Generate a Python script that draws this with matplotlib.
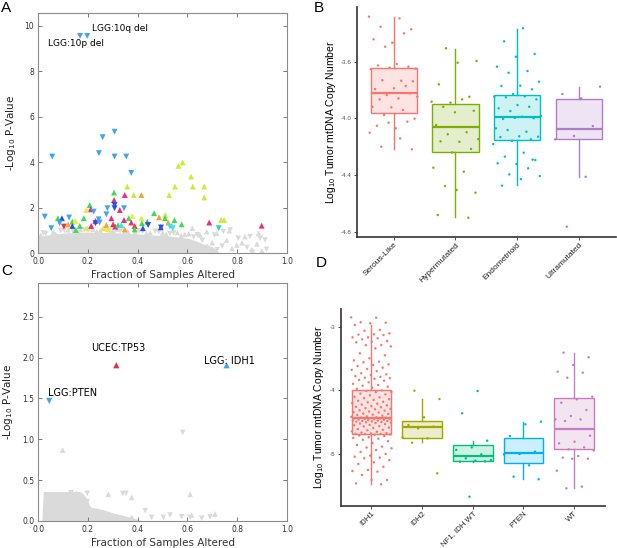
import matplotlib
matplotlib.use("Agg")
import matplotlib.pyplot as plt
import numpy as np

plt.rcParams['mathtext.default'] = 'regular'
plt.rcParams['axes.unicode_minus'] = False

# ---------------- panel A: pan-cancer associations ----------------
a_x = [0.168, 0.197, 0.056, 0.259, 0.307, 0.244, 0.307, 0.354, 0.374, 0.358,
       0.305, 0.348, 0.384, 0.415, 0.305, 0.307, 0.307, 0.345, 0.328, 0.207,
       0.211, 0.223, 0.193, 0.278, 0.274, 0.026, 0.052, 0.079, 0.095, 0.124,
       0.086, 0.103, 0.120, 0.137, 0.149, 0.137, 0.151, 0.167, 0.183, 0.197,
       0.213, 0.230, 0.230, 0.243, 0.247, 0.260, 0.274, 0.281, 0.294, 0.301,
       0.310, 0.321, 0.334, 0.345, 0.348, 0.364, 0.378, 0.374, 0.388, 0.388,
       0.415, 0.417, 0.421, 0.439, 0.442, 0.466, 0.486, 0.493, 0.511, 0.564,
       0.581, 0.615, 0.550, 0.622, 0.668, 0.527, 0.668, 0.510, 0.548, 0.523,
       0.577, 0.530, 0.541, 0.494, 0.688, 0.736, 0.748, 0.726, 0.899]
a_y = [9.54, 9.54, 4.24, 5.09, 5.33, 4.39, 4.24, 4.24, 3.52, 2.92,
       2.66, 2.55, 2.55, 2.55, 2.33, 2.11, 1.97, 1.97, 1.89, 2.11,
       1.92, 1.82, 1.89, 1.97, 1.70, 1.60, 1.09, 1.53, 1.53, 1.56,
       1.31, 1.16, 1.26, 1.38, 1.41, 1.19, 1.01, 1.19, 1.53, 1.09,
       1.19, 1.41, 1.31, 1.48, 1.34, 1.09, 1.23, 1.04, 1.53, 1.26,
       1.16, 1.23, 1.23, 1.45, 1.04, 1.53, 1.63, 1.34, 1.19, 1.04,
       1.53, 1.31, 1.09, 1.38, 1.23, 1.75, 1.57, 1.13, 1.67, 3.83,
       3.98, 3.36, 2.92, 2.92, 2.92, 2.55, 2.44, 1.53, 1.45, 1.34,
       1.26, 1.16, 1.09, 1.12, 1.34, 1.45, 1.45, 1.09, 1.20]
a_type = ['lblue', 'lblue', 'lblue', 'lblue', 'lblue', 'lblue', 'lblue', 'lblue', 'lblue', 'ygreen',
          'green', 'magenta', 'ygreen', 'orange', 'magenta', 'dblue', 'dblue', 'lblue', 'magenta', 'green',
          'magenta', 'lblue', 'yellow', 'lblue', 'lblue', 'lblue', 'lblue', 'green', 'dblue', 'lblue',
          'lblue', 'red', 'orange', 'green', 'yellow', 'dblue', 'green', 'green', 'green', 'yellow',
          'magenta', 'magenta', 'dblue', 'lblue', 'lblue', 'yellow', 'orange', 'yellow', 'magenta', 'red',
          'magenta', 'green', 'cyan', 'magenta', 'orange', 'green', 'yellow', 'magenta', 'red', 'green',
          'yellow', 'green', 'dblue', 'green', 'dblue', 'green', 'orange', 'dblue', 'ygreen', 'ygreen',
          'ygreen', 'ygreen', 'ygreen', 'ygreen', 'ygreen', 'ygreen', 'ygreen', 'green', 'green', 'orange',
          'green', 'cyan', 'cyan', 'dblue', 'magenta', 'ygreen', 'ygreen', 'teal', 'magenta']
a_dir = ['v', 'v', 'v', 'v', 'v', 'v', 'v', 'v', 'v', '^',
         '^', '^', '^', '^', '^', 'v', 'v', 'v', '^', '^',
         '^', 'v', '^', 'v', 'v', 'v', 'v', '^', '^', 'v',
         'v', 'v', '^', '^', '^', '^', '^', '^', '^', '^',
         '^', '^', 'v', 'v', 'v', '^', '^', '^', '^', '^',
         '^', '^', '^', '^', '^', '^', '^', '^', '^', '^',
         '^', '^', '^', '^', 'v', '^', '^', '^', '^', '^',
         '^', '^', '^', '^', '^', '^', '^', '^', '^', '^',
         '^', 'v', 'v', 'v', '^', '^', '^', 'v', '^']

# dense non-significant cloud (outline) and scattered grey points
a_cloud_x = [0.0, 0.02, 0.05, 0.1, 0.15, 0.2, 0.25, 0.3, 0.35, 0.4, 0.45,
             0.5, 0.55, 0.6, 0.63, 0.66, 0.7, 0.73]
a_cloud_top = [0.72, 0.76, 0.82, 0.88, 0.9, 0.92, 0.9, 0.9, 0.86, 0.84, 0.8,
               0.77, 0.72, 0.65, 0.55, 0.42, 0.28, 0.0]
a_grey_x = [0.01, 0.03, 0.06, 0.09, 0.12, 0.14, 0.17, 0.2, 0.22, 0.25, 0.27,
            0.3, 0.33, 0.36, 0.39, 0.42, 0.45, 0.47, 0.5, 0.53, 0.56, 0.59,
            0.62, 0.64, 0.651, 0.678, 0.709, 0.718, 0.745, 0.758, 0.769, 0.772,
            0.799, 0.805, 0.832, 0.852, 0.859, 0.862, 0.886, 0.893, 0.913, 0.919,
            0.70, 0.74, 0.78, 0.66, 0.68, 0.72, 0.82, 0.84, 0.88, 0.90,
            0.02, 0.07, 0.105, 0.16, 0.185, 0.235, 0.285, 0.315, 0.345, 0.405,
            0.435, 0.485, 0.515, 0.545, 0.575, 0.605, 0.625]
a_grey_y = [0.78, 0.85, 0.92, 0.98, 1.02, 0.95, 1.03, 1.0, 1.04, 0.98, 1.03,
            1.0, 0.97, 0.95, 0.92, 0.95, 0.9, 0.96, 0.88, 0.85, 0.9, 0.82,
            1.09, 0.8, 0.79, 0.94, 0.79, 0.87, 0.94, 0.57, 0.98, 1.01,
            0.35, 0.65, 0.72, 0.72, 0.16, 0.03, 0.87, 0.65, 0.57, 0.16,
            0.45, 0.3, 0.2, 0.55, 0.3, 0.15, 0.45, 0.25, 0.4, 0.1,
            0.88, 0.83, 1.0, 0.93, 1.02, 0.94, 0.97, 1.04, 0.9, 0.97,
            0.86, 0.93, 0.82, 0.88, 0.76, 0.85, 0.7]
a_grey_dir = ['^', 'v', '^', 'v', '^', 'v', '^', 'v', '^', '^', 'v',
              '^', 'v', '^', '^', 'v', '^', 'v', '^', 'v', '^', '^',
              '^', 'v', '^', '^', 'v', '^', 'v', '^', '^', 'v',
              '^', 'v', '^', 'v', '^', 'v', '^', 'v', 'v', 'v',
              '^', 'v', '^', 'v', '^', 'v', '^', 'v', '^', '^',
              'v', '^', 'v', '^', 'v', '^', 'v', '^', '^', 'v',
              '^', 'v', '^', 'v', '^', '^', 'v']
a_labels = ['LGG:10q del', 'LGG:10p del']
a_label_x = [0.215, 0.040]
a_label_y = [9.85, 9.21]

# ---------------- panel C: gene associations ----------------
c_x = [0.314, 0.758, 0.044]
c_y = [1.907, 1.907, 1.47]
c_type = ['crimson', 'lblue', 'lblue']
c_dir = ['^', '^', 'v']
c_labels = ['UCEC:TP53', 'LGG: IDH1', 'LGG:PTEN']
c_label_x = [0.211, 0.668, 0.038]
c_label_y = [2.12, 1.955, 1.57]
c_cloud_x = [0.015, 0.02, 0.1, 0.17, 0.19, 0.21, 0.26, 0.3, 0.34, 0.38, 0.42]
c_cloud_top = [0.05, 0.36, 0.36, 0.36, 0.3, 0.17, 0.14, 0.1, 0.07, 0.04, 0.0]
c_grey_x = [0.132, 0.197, 0.282, 0.340, 0.353, 0.376, 0.611, 0.197, 0.430, 0.376,
            0.456, 0.503, 0.530, 0.577, 0.611, 0.617, 0.658, 0.691, 0.711, 0.581,
            0.098, 0.248, 0.289, 0.168, 0.221, 0.154, 0.114]
c_grey_y = [0.346, 0.338, 0.326, 0.338, 0.338, 0.289, 0.326, 0.236, 0.126, 0.045,
            0.045, 0.045, 0.073, 0.053, 0.045, 0.073, 0.033, 0.053, 0.086, 1.084,
            0.868, 0.094, 0.033, 0.134, 0.073, 0.338, 0.318]
c_grey_dir = ['v', 'v', '^', 'v', 'v', '^', '^', 'v', 'v', '^',
              'v', 'v', 'v', 'v', 'v', '^', 'v', 'v', '^', 'v',
              '^', 'v', '^', 'v', '^', '^', 'v']

# ---------------- panel B: UCEC subtypes ----------------
b_groups = ['Serous-Like', 'Hypermutated', 'Endometrioid', 'Ultramutated']
b_q1 = [-3.964, -4.235, -4.153, -4.148]
b_med = [-3.819, -4.061, -3.992, -4.075]
b_q3 = [-3.642, -3.901, -3.837, -3.861]
b_lo = [-4.218, -4.698, -4.470, -4.412]
b_hi = [-3.287, -3.508, -3.371, -3.776]
b_serous = [-3.282, -3.294, -3.353, -3.371, -3.466, -3.442, -3.400, -3.494, -3.649, -3.616,
            -3.626, -3.635, -3.642, -3.652, -3.734, -3.731, -3.738, -3.788, -3.793, -3.771,
            -3.835, -3.847, -3.859, -3.866, -3.823, -3.922, -3.918, -3.941, -3.976, -4.002,
            -4.070, -4.052, -4.023, -4.030, -4.101, -4.141, -4.200, -4.218]
b_hyper = [-3.505, -3.595, -3.607, -3.760, -3.847, -3.889, -3.882, -3.866, -3.918, -3.946,
           -3.957, -4.047, -4.098, -4.112, -4.146, -4.165, -4.162, -4.216, -4.240, -4.348,
           -4.376, -4.477, -4.524, -4.505, -4.682, -4.701]
b_endo = [-3.364, -3.456, -3.546, -3.565, -3.635, -3.666, -3.678, -3.741, -3.769, -3.771,
          -3.795, -3.828, -3.847, -3.844, -3.851, -3.866, -3.906, -3.929, -3.918, -3.948,
          -3.983, -3.988, -4.004, -3.999, -3.996, -4.070, -4.094, -4.082, -4.129, -4.126,
          -4.132, -4.148, -4.158, -4.181, -4.242, -4.270, -4.294, -4.322, -4.317, -4.352,
          -4.395, -4.407, -4.428, -4.475, -4.291]
b_ultra = [-3.776, -3.859, -3.828, -4.054, -4.124, -4.148, -4.412, -4.764]
b_colors = ['#F8766D', '#7CAE00', '#00BFC4', '#B07CC6']

# ---------------- panel D: LGG mutation groups ----------------
d_groups = ['IDH1', 'IDH2', 'NF1, IDH WT', 'PTEN', 'WT']
d_q1 = [-4.696, -4.753, -5.115, -5.142, -4.927]
d_med = [-4.444, -4.575, -5.037, -4.984, -4.617]
d_q3 = [-3.997, -4.480, -4.869, -4.748, -4.129]
d_lo = [-5.478, -4.822, -5.126, -5.404, -5.546]
d_hi = [-2.974, -4.139, -4.801, -4.507, -3.420]
d_idh1 = [-2.853, -2.858, -2.931, -2.937, -2.946, -2.973, -3.052, -3.063, -3.105, -3.120,
          -3.124, -3.131, -3.167, -3.168, -3.183, -3.199, -3.226, -3.236, -3.246, -3.288,
          -3.291, -3.310, -3.341, -3.419, -3.450, -3.498, -3.530, -3.551, -3.560, -3.593,
          -3.603, -3.620, -3.646, -3.666, -3.680, -3.700, -3.734, -3.750, -3.761, -3.780,
          -3.790, -3.803, -3.810, -3.820, -3.839, -3.850, -3.876, -3.900, -3.918, -3.930,
          -3.945, -3.960, -3.980,
          -4.003, -4.012, -4.027, -4.031, -4.054, -4.066, -4.079, -4.104, -4.113, -4.125,
          -4.141, -4.152, -4.166, -4.183, -4.190, -4.204, -4.213, -4.226, -4.238, -4.251,
          -4.262, -4.268, -4.283, -4.295, -4.301, -4.317, -4.322, -4.336, -4.347, -4.352,
          -4.368, -4.373, -4.385, -4.392, -4.401, -4.413, -4.419, -4.428, -4.433, -4.437,
          -4.441, -4.444, -4.447, -4.452, -4.455, -4.459, -4.462, -4.466, -4.471, -4.474,
          -4.478, -4.483, -4.487, -4.492, -4.496, -4.501, -4.505, -4.512, -4.518, -4.526,
          -4.533, -4.547, -4.552, -4.566, -4.571, -4.589, -4.596, -4.612, -4.623, -4.631,
          -4.648, -4.655, -4.667, -4.675, -4.681, -4.686, -4.689, -4.693, -4.697, -4.702,
          -4.712, -4.723, -4.741, -4.752, -4.764, -4.781, -4.803, -4.834, -4.862, -4.889,
          -4.903, -4.915, -4.943, -4.972, -5.004, -5.031, -5.047, -5.061, -5.073, -5.101,
          -5.136, -5.162, -5.205, -5.257, -5.273, -5.283, -5.336, -5.414, -5.415, -5.467,
          -5.482]
d_idh2 = [-4.008, -4.139, -4.427, -4.548, -4.575, -4.601, -4.742, -4.758, -4.827, -5.309]
d_nf1 = [-4.013, -4.364, -4.795, -4.899, -4.940, -5.010, -5.073, -5.100, -5.110, -5.126,
         -5.120, -5.677]
d_pten = [-4.496, -4.537, -4.721, -4.968, -5.005, -5.010, -5.183, -5.362, -5.403]
d_wt = [-3.409, -3.482, -3.603, -3.709, -3.724, -3.803, -4.102, -4.144, -4.197, -4.312,
        -4.406, -4.459, -4.460, -4.485, -4.717, -4.811, -4.837, -4.900, -4.931, -4.950,
        -5.036, -5.063, -5.079, -5.080, -5.268, -5.520, -5.545]
d_colors = ['#F8766D', '#A3A500', '#00BF7D', '#00B0F6', '#C77CBE']

# ---------------- styling ----------------
point_colors = {'lblue': '#3FA4F2', 'ygreen': '#C9EE3A', 'green': '#3EDB55',
                'magenta': '#EC2A80', 'orange': '#F4A23A', 'dblue': '#2C4FE0',
                'cyan': '#3FE0F0', 'red': '#E63A3A', 'yellow': '#EDEA3F',
                'teal': '#2EDC9A', 'crimson': '#E0304A'}
grey = '#DADADA'
sans = 'DejaVu Sans'
gg = 'Liberation Sans'

fig = plt.figure(figsize=(6.17, 5.48), dpi=100)
axA = fig.add_axes([0.0621, 0.5383, 0.4026, 0.438])
axB = fig.add_axes([0.5781, 0.5675, 0.420, 0.4197])
axC = fig.add_axes([0.0621, 0.0493, 0.4026, 0.4337])
axD = fig.add_axes([0.5527, 0.0772, 0.4271, 0.3584])


def scatter_dirs(ax, xs, ys, dirs, colors, size, z):
    for i in range(len(xs)):
        ax.scatter(xs[i], ys[i], marker=dirs[i], s=size, color=colors[i],
                   edgecolors='none', zorder=z)


def style_classic(ax, xlim, ylim, yticks):
    ax.set_xlim(*xlim)
    ax.set_ylim(*ylim)
    ax.set_xticks([0.0, 0.2, 0.4, 0.6, 0.8, 1.0])
    ax.set_xticklabels(['0.0', '0.2', '0.4', '0.6', '0.8', '1.0'])
    ax.set_yticks(yticks)
    for s in ax.spines.values():
        s.set_color('#8C8C8C')
        s.set_linewidth(0.8)
    ax.tick_params(direction='in', top=True, right=True, length=3, width=0.6,
                   color='#666666', labelsize=5.5, labelcolor='#333333', pad=3)
    for lab in ax.get_xticklabels() + ax.get_yticklabels():
        lab.set_family(sans)
    ax.set_xlabel('Fraction of Samples Altered', fontsize=7.5, family=sans,
                  color='#333333', labelpad=2.5)
    ax.set_ylabel('-Log$_{10}$ P-Value', fontsize=7.5, family=sans,
                  color='#222222', labelpad=5)


# panel A
axA.fill_between(a_cloud_x, 0, a_cloud_top, color=grey, lw=0, zorder=1)
scatter_dirs(axA, a_grey_x, a_grey_y, a_grey_dir, [grey] * len(a_grey_x), 16, 1)
scatter_dirs(axA, a_x, a_y, a_dir, [point_colors[t] for t in a_type], 18, 3)
for lab, lx, ly in zip(a_labels, a_label_x, a_label_y):
    axA.text(lx, ly, lab, fontsize=6.5, family=sans, va='center', ha='left')
style_classic(axA, (0, 1), (0, 10.55), [0, 2, 4, 6, 8, 10])

# panel C
axC.fill_between(c_cloud_x, 0, c_cloud_top, color=grey, lw=0, zorder=1)
scatter_dirs(axC, c_grey_x, c_grey_y, c_grey_dir, [grey] * len(c_grey_x), 16, 1)
scatter_dirs(axC, c_x, c_y, c_dir, [point_colors[t] for t in c_type], 20, 3)
for lab, lx, ly in zip(c_labels, c_label_x, c_label_y):
    axC.text(lx, ly, lab, fontsize=7, family=sans, va='center', ha='left')
style_classic(axC, (0, 1), (0, 2.91), [0.0, 0.5, 1.0, 1.5, 2.0, 2.5])
axC.set_yticklabels(['0.0', '0.5', '1.0', '1.5', '2.0', '2.5'], family=sans)


def gg_box(ax, groups, q1, med, q3, lo, hi, points, colors, width, ylim, yticks, ytl,
           ypad, xfs):
    stats = []
    for i in range(len(groups)):
        stats.append({'med': med[i], 'q1': q1[i], 'q3': q3[i],
                      'whislo': lo[i], 'whishi': hi[i], 'fliers': []})
    pos = np.arange(1, len(groups) + 1)
    art = ax.bxp(stats, positions=pos, widths=width, patch_artist=True,
                 showfliers=False, showcaps=False)
    for i, c in enumerate(colors):
        art['boxes'][i].set_facecolor(matplotlib.colors.to_rgba(c, 0.2))
        art['boxes'][i].set_edgecolor(c)
        art['boxes'][i].set_linewidth(1.0)
        art['medians'][i].set_color(c)
        art['medians'][i].set_linewidth(1.6)
        for w in art['whiskers'][2 * i:2 * i + 2]:
            w.set_color(c)
            w.set_linewidth(1.0)
        vals = points[i]
        jit = np.array([((k * 0.618034 + 0.31 * i) % 1.0) * 2 - 1 for k in range(len(vals))])
        ax.scatter(pos[i] + 0.4 * jit, vals, s=3, color=c, edgecolors='none', zorder=4)
    ax.set_xlim(0.4, len(groups) + 0.6)
    ax.set_ylim(*ylim)
    ax.set_xticks(pos)
    ax.set_xticklabels(groups, rotation=45, ha='right', rotation_mode='anchor',
                       fontsize=xfs, family=gg, color='#222222')
    ax.set_yticks(yticks)
    ax.set_yticklabels(ytl, fontsize=4.5, family=gg, color='#555555')
    for s in ['top', 'right']:
        ax.spines[s].set_visible(False)
    for s in ['left', 'bottom']:
        ax.spines[s].set_color('#333333')
        ax.spines[s].set_linewidth(1.2)
    ax.tick_params(length=2, width=0.6, color='#333333', pad=2)
    ax.tick_params(axis='x', pad=1)
    ax.set_ylabel('Log$_{10}$ Tumor mtDNA Copy Number', fontsize=7.5, family=gg,
                  labelpad=ypad)


gg_box(axB, b_groups, b_q1, b_med, b_q3, b_lo, b_hi,
       [b_serous, b_hyper, b_endo, b_ultra], b_colors, 0.75,
       (-4.837, -3.214), [-4.8, -4.4, -4.0, -3.6], ['-4.8', '-4.4', '-4.0', '-3.6'], 1.5, 6)
gg_box(axD, d_groups, d_q1, d_med, d_q3, d_lo, d_hi,
       [d_idh1, d_idh2, d_nf1, d_pten, d_wt], d_colors, 0.78,
       (-5.819, -2.726), [-5, -4, -3], ['-5', '-4', '-3'], 3, 5.6)

for lab, fx, fy in [('A', 0.002, 0.998), ('B', 0.508, 0.998),
                    ('C', 0.002, 0.518), ('D', 0.511, 0.533)]:
    fig.text(fx, fy, lab, fontsize=11, family=gg, va='top', ha='left')

fig.savefig('out.png', dpi=100)
